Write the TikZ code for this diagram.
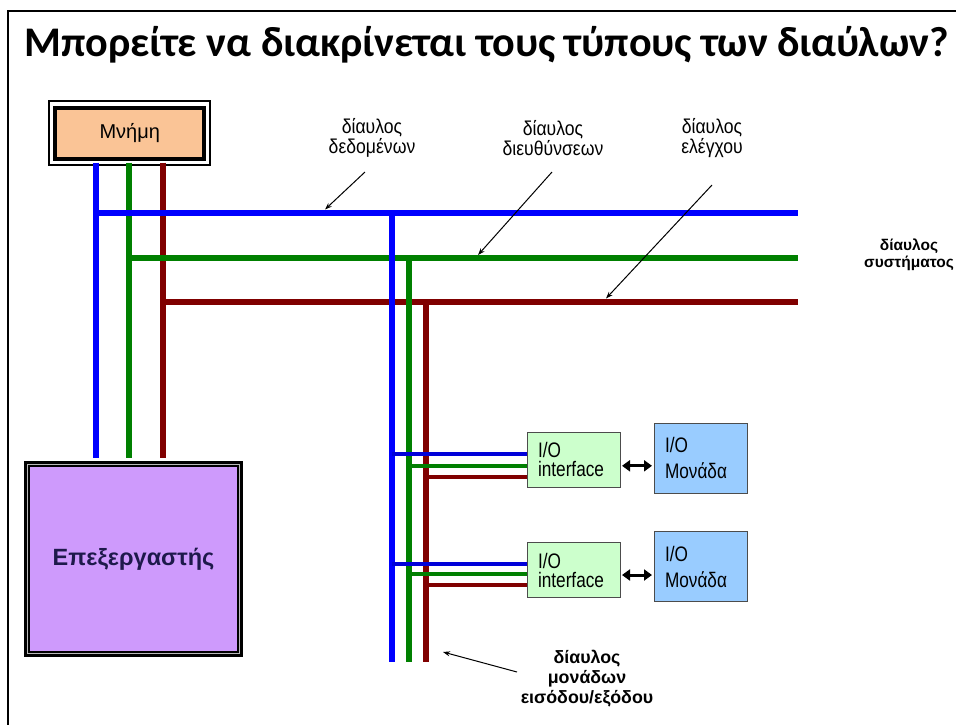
\documentclass[tikz,border=0pt]{standalone}
\usepackage{fontspec}
\setmainfont{Liberation Sans}
\newfontfamily\titlefont{Carlito}
\newfontfamily\narrowfont[FakeStretch=0.82]{Liberation Sans}
\newfontfamily\labfont[FakeStretch=0.88]{Liberation Sans}
\usetikzlibrary{arrows.meta}
\definecolor{busblue}{RGB}{0,0,255}
\definecolor{busgreen}{RGB}{0,128,0}
\definecolor{busred}{RGB}{128,0,0}
\definecolor{memfill}{RGB}{250,196,150}
\definecolor{cpufill}{RGB}{206,154,252}
\definecolor{cputext}{RGB}{30,25,75}
\definecolor{iffill}{RGB}{204,255,204}
\definecolor{modfill}{RGB}{153,204,255}
\begin{document}
\begin{tikzpicture}[x=1pt,y=-1pt,
  bus/.style={line width=6.5pt},
  branch/.style={line width=4pt},
  ptr/.style={line width=1pt,-{Stealth[length=7pt,width=5pt]}},
  dblarrow/.style={line width=3pt,{Triangle[length=8pt,width=11pt]}-{Triangle[length=8pt,width=11pt]},shorten <=1.5pt,shorten >=1.5pt},
  membox/.style={draw,line width=4pt,fill=memfill,minimum width=148.9pt,minimum height=51.2pt,inner sep=0pt,font=\fontsize{20}{24}\selectfont},
  cpubox/.style={draw,line width=6pt,fill=cpufill,minimum width=213pt,minimum height=190pt,inner sep=0pt,text=cputext,font=\bfseries\fontsize{23.5}{28}\selectfont},
  ifbox/.style={draw=black!70,line width=1pt,fill=iffill,minimum width=93pt,minimum height=55pt,align=left,text width=71pt,inner xsep=11pt,inner ysep=0pt,font=\narrowfont\fontsize{21}{19}\selectfont},
  modbox/.style={draw=black!70,line width=1pt,fill=modfill,minimum width=93pt,minimum height=70pt,align=left,text width=71pt,inner xsep=11pt,inner ysep=0pt,font=\narrowfont\fontsize{21}{26}\selectfont},
  toplab/.style={align=center,inner sep=0pt,font=\labfont\fontsize{20}{17}\selectfont},
  boldlab/.style={align=center,inner sep=0pt,font=\bfseries\fontsize{15.5}{17}\selectfont},
  iolab/.style={align=center,inner sep=0pt,font=\bfseries\fontsize{17.8}{20}\selectfont}
]
\useasboundingbox (0,0) rectangle (956,724);
% frame
\draw[line width=2pt] (8,730) -- (8,11) -- (962,11);
% title
\node[anchor=base west,inner sep=0pt,font=\titlefont\bfseries\fontsize{42.2}{50}\selectfont] (title) at (24,56) {Μπορείτε να διακρίνεται τους τύπους των διαύλων?};

% boxes
\node[membox] (mem) at (129.75,133.1) {Μνήμη};
\draw[line width=2pt] ([shift={(-4.5,-4.5)}]mem.north west) rectangle ([shift={(4,4.3)}]mem.south east);
\node[cpubox] (cpu) at (133.5,559) {Επεξεργαστής};
\draw[gray!55,line width=1.2pt] ([shift={(3.6,3.6)}]cpu.north west) rectangle ([shift={(-3.6,-3.6)}]cpu.south east);
\draw[line width=1pt] ([shift={(5.3,5.3)}]cpu.north west) rectangle ([shift={(-5.3,-5.3)}]cpu.south east);

\node[ifbox] (if1) at (573.5,459.8) {I/O\\interface};
\node[modbox] (mod1) at (700.5,458) {I/O\\Μονάδα};
\node[ifbox] (if2) at (573.5,570) {I/O\\interface};
\node[modbox] (mod2) at (700.5,566.5) {I/O\\Μονάδα};

% bus coordinates
\coordinate (b1) at (96,213);  \coordinate (b2) at (798,213);
\coordinate (g1) at (129,258); \coordinate (g2) at (798,258);
\coordinate (r1) at (163,302); \coordinate (r2) at (798,302);
\coordinate (ib) at (392,213); \coordinate (ibe) at (392,662);
\coordinate (ig) at (409,258); \coordinate (ige) at (409,662);
\coordinate (ir) at (426,302); \coordinate (ire) at (426,662);

% memory - cpu verticals
\draw[bus,busblue,shorten <=2pt,shorten >=3pt] (mem.south -| b1) -- (cpu.north -| b1);
\draw[bus,busgreen,shorten <=2pt,shorten >=3pt] (mem.south -| g1) -- (cpu.north -| g1);
\draw[bus,busred,shorten <=2pt,shorten >=3pt] (mem.south -| r1) -- (cpu.north -| r1);
% system bus horizontals
\draw[bus,busred] (r1) -- (r2);
\draw[bus,busgreen] (g1) -- (g2);
\draw[bus,busblue] (b1) -- (b2);
% I/O bus verticals
\draw[bus,busred] (ir) -- (ire);
\draw[bus,busgreen] (ig) -- (ige);
\draw[bus,busblue] (ib) -- (ibe);

% branches to interfaces
\coordinate (p1b) at ([yshift=5.5pt]if1.west);
\coordinate (p1g) at ([yshift=-6pt]if1.west);
\coordinate (p1r) at ([yshift=-17pt]if1.west);
\coordinate (p2b) at ([yshift=5.7pt]if2.west);
\coordinate (p2g) at ([yshift=-4.3pt]if2.west);
\coordinate (p2r) at ([yshift=-15pt]if2.west);
\draw[branch,busred] (p1r -| ir) -- (p1r);
\draw[branch,busgreen] (p1g -| ig) -- (p1g);
\draw[branch,busblue!85!black] (p1b -| ib) -- (p1b);
\draw[branch,busred] (p2r -| ir) -- (p2r);
\draw[branch,busgreen] (p2g -| ig) -- (p2g);
\draw[branch,busblue!85!black] (p2b -| ib) -- (p2b);

% double arrows
\coordinate (d1) at ([yshift=-6pt]if1.east);
\coordinate (d2) at ([yshift=-5pt]if2.east);
\draw[dblarrow] (d1) -- (d1 -| mod1.west);
\draw[dblarrow] (d2) -- (d2 -| mod2.west);

% labels
\node[toplab] (lab1) at (372,138) {δίαυλος\\δεδομένων};
\node[toplab] (lab2) at (553,138) {δίαυλος\\διευθύνσεων};
\node[toplab] (lab3) at (712,138) {δίαυλος\\ελέγχου};
\node[boldlab] (lab4) at (909,255) {δίαυλος\\συστήματος};
\node[iolab] (lab5) at (587,679) {δίαυλος\\μονάδων\\εισόδου/εξόδου};

\coordinate (t1) at (325,209.5);
\coordinate (t2) at (478,255);
\coordinate (t3) at (606,298.5);
\coordinate (t5) at (443,652);
\draw[ptr] (lab1) ++(-7,34) -- (t1);
\draw[ptr] (lab2) ++(-1,34) -- (t2);
\draw[ptr] (lab3) ++(0,47) -- (t3);
\draw[ptr] (lab5) ++(-70,-7) -- (t5);
\end{tikzpicture}
\end{document}
